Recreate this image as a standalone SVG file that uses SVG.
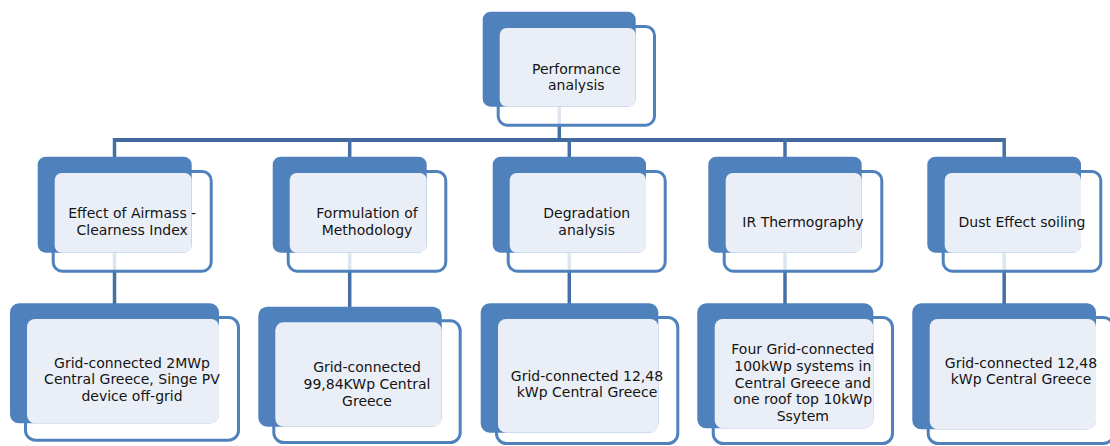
<svg xmlns="http://www.w3.org/2000/svg" width="1110" height="446" viewBox="0 0 1110 446">
<style>
.conn{stroke:#4470A5;stroke-width:3.5;fill:none}
.bar{stroke:#41699C;stroke-width:4;fill:none}
.outline{fill:#FFFFFF;fill-opacity:0.82;stroke:#4F81BD;stroke-width:3}
.back{fill:#4F81BD}
.light{fill:#EAEFF7}
.t{font-family:"DejaVu Sans",Verdana,sans-serif;font-size:14px;fill:#141414;text-anchor:middle}
</style>
<rect width="1110" height="446" fill="#FFFFFF"/>
<g id="connectors">
<line class="conn" x1="559.3" y1="100" x2="559.3" y2="140"/>
<line class="bar" x1="114.5" y1="140" x2="1004.2" y2="140"/>
<line class="conn" x1="114.5" y1="138" x2="114.5" y2="160"/>
<line class="conn" x1="349.7" y1="138" x2="349.7" y2="160"/>
<line class="conn" x1="569.3" y1="138" x2="569.3" y2="160"/>
<line class="conn" x1="785" y1="138" x2="785" y2="160"/>
<line class="conn" x1="1004.2" y1="138" x2="1004.2" y2="160"/>
<line class="conn" x1="114.5" y1="245" x2="114.5" y2="308"/>
<line class="conn" x1="349.7" y1="245" x2="349.7" y2="310"/>
<line class="conn" x1="569.3" y1="245" x2="569.3" y2="308"/>
<line class="conn" x1="785" y1="245" x2="785" y2="308"/>
<line class="conn" x1="1004.2" y1="245" x2="1004.2" y2="308"/>
</g>
<g id="node-top">
<rect class="outline" x="498.2" y="26.5" width="156.3" height="98.7" rx="9"/>
<rect class="back" x="482.7" y="11.7" width="153" height="95" rx="8"/>
<rect class="light" x="499.7" y="28" width="136" height="78.7" rx="7"/>
<text class="t" x="576.3" y="73.5">Performance</text>
<text class="t" x="576.3" y="90">analysis</text>
</g>
<g id="node-m1">
<rect class="outline" x="53.2" y="171.5" width="158" height="99.7" rx="9"/>
<rect class="back" x="37.7" y="156.7" width="154" height="96" rx="8"/>
<rect class="light" x="54.7" y="173" width="137" height="79.7" rx="7"/>
<text class="t" x="132.2" y="218">Effect of Airmass -</text>
<text class="t" x="132.2" y="234.8">Clearness Index</text>
</g>
<g id="node-m2">
<rect class="outline" x="288.2" y="171.5" width="157.6" height="99.7" rx="9"/>
<rect class="back" x="272.7" y="156.7" width="154" height="96" rx="8"/>
<rect class="light" x="289.7" y="173" width="137" height="79.7" rx="7"/>
<text class="t" x="367" y="218">Formulation of</text>
<text class="t" x="367" y="234.8">Methodology</text>
</g>
<g id="node-m3">
<rect class="outline" x="508.2" y="171.5" width="157" height="99.7" rx="9"/>
<rect class="back" x="492.7" y="156.7" width="153.3" height="96" rx="8"/>
<rect class="light" x="509.7" y="173" width="136.3" height="79.7" rx="7"/>
<text class="t" x="586.7" y="218">Degradation</text>
<text class="t" x="586.7" y="234.8">analysis</text>
</g>
<g id="node-m4">
<rect class="outline" x="724.2" y="171.5" width="157.6" height="99.7" rx="9"/>
<rect class="back" x="708.3" y="156.7" width="153.4" height="96" rx="8"/>
<rect class="light" x="725.7" y="173" width="136" height="79.7" rx="7"/>
<text class="t" x="803" y="226.5">IR Thermography</text>
</g>
<g id="node-m5">
<rect class="outline" x="943.2" y="171.5" width="157.6" height="99.7" rx="9"/>
<rect class="back" x="927.3" y="156.7" width="153.7" height="96" rx="8"/>
<rect class="light" x="944.7" y="173" width="136.3" height="79.7" rx="7"/>
<text class="t" x="1022" y="226.5">Dust Effect soiling</text>
</g>
<g id="node-b1">
<rect class="outline" x="25.5" y="317.5" width="213" height="122.7" rx="10"/>
<rect class="back" x="10" y="303.3" width="209" height="120" rx="9"/>
<rect class="light" x="27" y="319" width="192" height="104.3" rx="8"/>
<text class="t" x="132" y="367.5">Grid-connected 2MWp</text>
<text class="t" x="132" y="384.3">Central Greece, Singe PV</text>
<text class="t" x="132" y="401.1">device off-grid</text>
</g>
<g id="node-b2">
<rect class="outline" x="273.8" y="320.8" width="186.4" height="121.7" rx="10"/>
<rect class="back" x="258.3" y="306.7" width="183.4" height="120" rx="9"/>
<rect class="light" x="275.3" y="322.3" width="166.4" height="104.4" rx="8"/>
<text class="t" x="367" y="372">Grid-connected</text>
<text class="t" x="367" y="388.8">99,84KWp Central</text>
<text class="t" x="367" y="405.6">Greece</text>
</g>
<g id="node-b3">
<rect class="outline" x="496.5" y="317.5" width="181.3" height="126" rx="10"/>
<rect class="back" x="480.7" y="303.3" width="177.6" height="129.4" rx="9"/>
<rect class="light" x="498" y="319" width="160.3" height="113.7" rx="8"/>
<text class="t" x="587" y="380.5">Grid-connected 12,48</text>
<text class="t" x="587" y="397.3">kWp Central Greece</text>
</g>
<g id="node-b4">
<rect class="outline" x="713.2" y="317.5" width="179.3" height="126" rx="10"/>
<rect class="back" x="697.3" y="303.3" width="176" height="125" rx="9"/>
<rect class="light" x="714.7" y="319" width="158.6" height="109.3" rx="8"/>
<text class="t" x="802.8" y="354.2">Four Grid-connected</text>
<text class="t" x="802.8" y="370.9">100kWp systems in</text>
<text class="t" x="802.8" y="387.6">Central Greece and</text>
<text class="t" x="802.8" y="404.3">one roof top 10kWp</text>
<text class="t" x="802.8" y="421">Ssytem</text>
</g>
<g id="node-b5">
<rect class="outline" x="928.2" y="317.5" width="185.3" height="126" rx="10"/>
<rect class="back" x="912.3" y="303.3" width="183.7" height="126" rx="9"/>
<rect class="light" x="929.7" y="319" width="166.3" height="110.3" rx="8"/>
<text class="t" x="1021" y="367.5">Grid-connected 12,48</text>
<text class="t" x="1021" y="384.3">kWp Central Greece</text>
</g>
</svg>
